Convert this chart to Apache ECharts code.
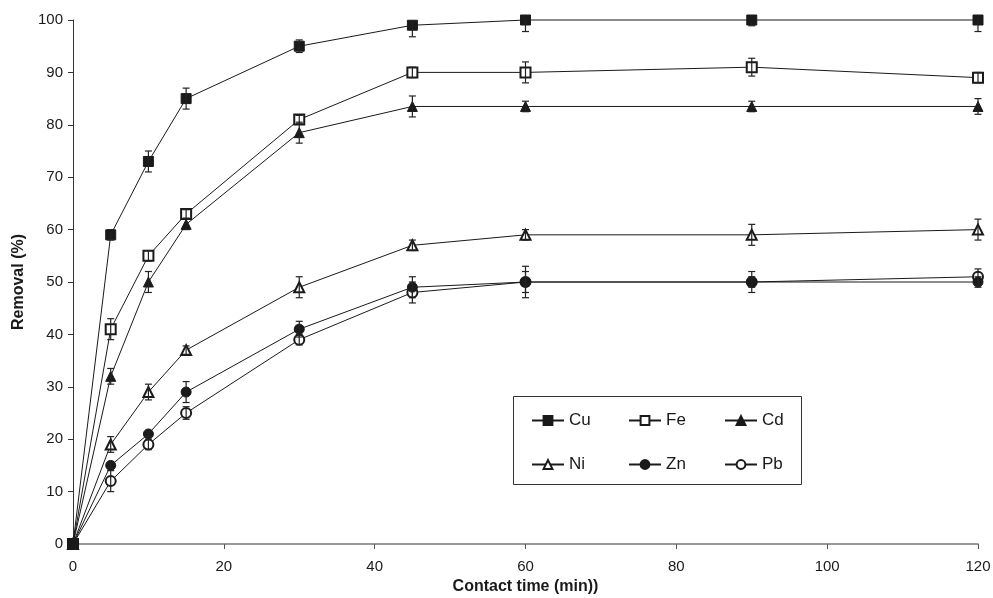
<!DOCTYPE html>
<html><head><meta charset="utf-8">
<script src="https://cdn.jsdelivr.net/npm/echarts@6/dist/echarts.min.js"></script>
<style>html,body{margin:0;padding:0;background:#fff}#c{width:993px;height:598px}</style>
</head><body><div id="c"></div>
<script>
const times = [0, 5, 10, 15, 30, 45, 60, 90, 120];
const cu = [0, 59, 73, 85, 95, 99, 100, 100, 100];
const fe = [0, 41, 55, 63, 81, 90, 90, 91, 89];
const cd = [0, 32, 50, 61, 78.5, 83.5, 83.5, 83.5, 83.5];
const ni = [0, 19, 29, 37, 49, 57, 59, 59, 60];
const zn = [0, 15, 21, 29, 41, 49, 50, 50, 50];
const pb = [0, 12, 19, 25, 39, 48, 50, 50, 51];
const cuErr = [0, 1, 2, 2, 1.2, 2.2, 2.2, 1.1, 2.2];
const feErr = [0, 2, 1, 0.8, 0.8, 1, 2, 1.7, 1];
const cdErr = [0, 1.5, 2, 1, 2, 2, 1, 1, 1.5];
const niErr = [0, 1.5, 1.5, 0.8, 2, 1, 1, 2, 2];
const znErr = [0, 0.5, 0.5, 2, 1.5, 2, 2, 2, 1];
const pbErr = [0, 2, 1, 1.2, 1, 2, 3, 1, 1.5];
const yTicks = [0, 10, 20, 30, 40, 50, 60, 70, 80, 90, 100];
const xTicks = [0, 20, 40, 60, 80, 100, 120];

const metals = [
  {name: 'Pb', v: pb, e: pbErr, sym: 'emptyCircle'},
  {name: 'Zn', v: zn, e: znErr, sym: 'circle'},
  {name: 'Ni', v: ni, e: niErr, sym: 'emptyTriangle'},
  {name: 'Cd', v: cd, e: cdErr, sym: 'triangle'},
  {name: 'Fe', v: fe, e: feErr, sym: 'emptyRect'},
  {name: 'Cu', v: cu, e: cuErr, sym: 'rect'}
];
const FONT = '"Liberation Sans", Arial, sans-serif';
const INK = '#1a1a1a';
const yMax = yTicks[yTicks.length - 1];

function renderErr(params, api) {
  const x = api.value(0), y = api.value(1), e = api.value(2);
  if (!e) return;
  const top = Math.min(y + e, yMax), bot = Math.max(y - e, 0);
  const p1 = api.coord([x, top]), p2 = api.coord([x, bot]);
  const w = 3.5;
  const style = {stroke: '#222', lineWidth: 1.2};
  const kids = [
    {type: 'line', shape: {x1: p1[0], y1: p1[1], x2: p2[0], y2: p2[1]}, style},
    {type: 'line', shape: {x1: p2[0] - w, y1: p2[1], x2: p2[0] + w, y2: p2[1]}, style}
  ];
  if (y + e <= yMax) kids.push({type: 'line', shape: {x1: p1[0] - w, y1: p1[1], x2: p1[0] + w, y2: p1[1]}, style});
  return {type: 'group', children: kids};
}

const series = [];
metals.forEach((m, i) => {
  series.push({
    name: m.name, type: 'line', data: times.map((t, k) => [t, m.v[k]]),
    symbol: m.sym, symbolSize: 10,
    showAllSymbol: true, clip: false,
    lineStyle: {color: INK, width: 1},
    itemStyle: {color: INK, borderColor: INK, borderWidth: 1},
    z: 2 + i * 0.01, animation: false
  });
});
metals.forEach((m) => {
  series.push({
    type: 'custom', name: m.name + '-err', renderItem: renderErr,
    data: times.map((t, k) => [t, m.v[k], m.e[k]]),
    z: 5, animation: false, silent: true
  });
});

const legendPos = [
  ['Cu', 531, 412], ['Fe', 628, 412], ['Cd', 724, 412],
  ['Ni', 531, 456], ['Zn', 628, 456], ['Pb', 724, 456]
];
const legends = legendPos.map(p => ({
  data: [p[0]], left: p[1], top: p[2], itemWidth: 32, itemHeight: 11, itemGap: 5,
  textStyle: {fontFamily: FONT, fontSize: 17, color: INK}, selectedMode: false, padding: 0
}));

const chart = echarts.init(document.getElementById('c'));
chart.setOption({
  animation: false,
  backgroundColor: '#fff',
  grid: {left: 73, right: 15, top: 20, bottom: 54, containLabel: false, outerBoundsMode: 'none'},
  legend: legends,
  graphic: [{type: 'rect', shape: {x: 513.5, y: 396.5, width: 288, height: 88},
    style: {fill: 'none', stroke: '#333', lineWidth: 1}, z: 10}],
  xAxis: {
    type: 'value', min: 0, max: 120, interval: 20,
    name: 'Contact time (min))', nameLocation: 'middle', nameGap: 35,
    nameTextStyle: {fontFamily: FONT, fontSize: 16, fontWeight: 'bold', color: INK},
    axisLine: {lineStyle: {color: '#777', width: 1.5}},
    axisTick: {show: true, length: 5, lineStyle: {color: '#555'}},
    axisLabel: {fontFamily: FONT, fontSize: 15, color: INK, margin: 15},
    splitLine: {show: false}
  },
  yAxis: {
    type: 'value', min: 0, max: 100, interval: 10,
    name: 'Removal (%)', nameLocation: 'middle', nameGap: 45, nameRotate: 90,
    nameTextStyle: {fontFamily: FONT, fontSize: 16, fontWeight: 'bold', color: INK},
    axisLine: {show: true, lineStyle: {color: '#333', width: 1}},
    axisTick: {show: true, length: 5, lineStyle: {color: '#333'}},
    axisLabel: {fontFamily: FONT, fontSize: 15, color: INK, margin: 10},
    splitLine: {show: false}
  },
  series: series
});
</script></body></html>
